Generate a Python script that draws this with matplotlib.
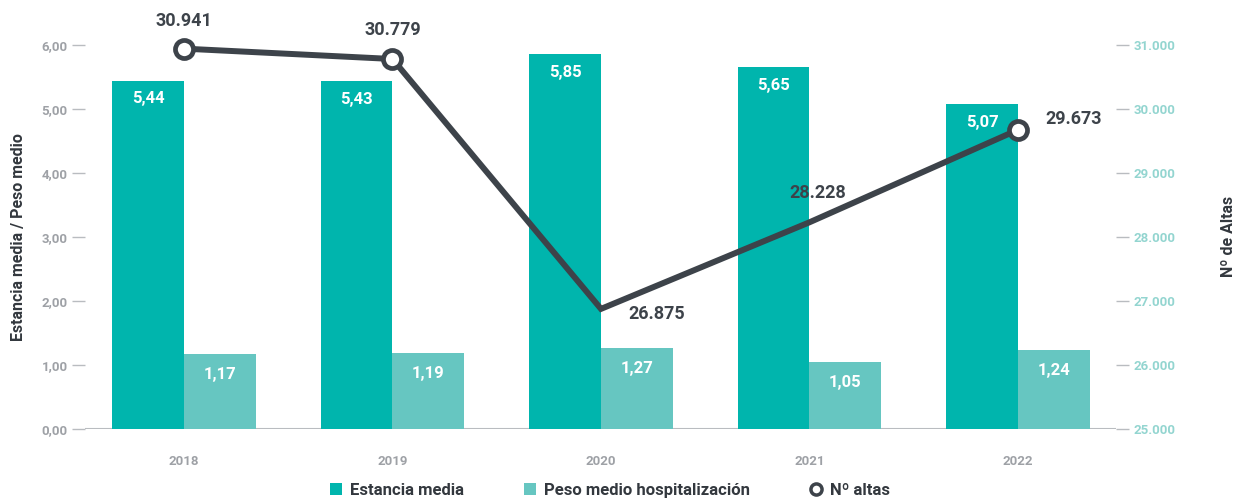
import numpy as np
import matplotlib
matplotlib.use("Agg")
import matplotlib.pyplot as plt
from matplotlib.lines import Line2D
from matplotlib.patches import Patch

plt.rcParams["font.family"] = ["Roboto", "DejaVu Sans"]

years = ["2018", "2019", "2020", "2021", "2022"]
estancia = [5.44, 5.43, 5.85, 5.65, 5.07]
peso = [1.17, 1.19, 1.27, 1.05, 1.24]
altas = [30941, 30779, 26875, 28228, 29673]
altas_labels = ["30.941", "30.779", "26.875", "28.228", "29.673"]
# offsets (points) of the altas labels relative to each point
altas_offsets = [(0, 20), (0, 21), (40, -4), (6, 21), (40, 8)]

C_EST = "#00B5AD"
C_PESO = "#66C6C1"
C_LINE = "#3D434A"
C_TICK = "#9EA1A6"
C_RTICK = "#93D5D0"
C_GRID = "#B9BCC0"
C_TEXT = "#33383E"

fig = plt.figure(figsize=(12.4, 5.04), dpi=100)
ax = fig.add_axes([0.0685, 0.149, 0.8315, 0.762])
ax2 = ax.twinx()

x = np.arange(len(years))
w = 0.345
ax.bar(x - w / 2, estancia, w, color=C_EST, zorder=2)
ax.bar(x + w / 2, peso, w, color=C_PESO, zorder=2)

for xi, v in zip(x, estancia):
    ax.annotate(f"{v:.2f}".replace(".", ","), (xi - w / 2, v), xytext=(0, -13),
                textcoords="offset points", ha="center", va="center",
                color="white", fontsize=12, fontweight="bold", zorder=3)
for xi, v in zip(x, peso):
    ax.annotate(f"{v:.2f}".replace(".", ","), (xi + w / 2, v), xytext=(0, -15),
                textcoords="offset points", ha="center", va="center",
                color="white", fontsize=12, fontweight="bold", zorder=3)

ax2.plot(x, altas, color=C_LINE, lw=4.3, marker="o", markevery=[0, 1, 4],
         markersize=13, markerfacecolor="white", markeredgecolor=C_LINE,
         markeredgewidth=3.4, zorder=4, solid_joinstyle="miter", clip_on=False)
for xi, v, lab, off in zip(x, altas, altas_labels, altas_offsets):
    ax2.annotate(lab, (xi, v), xytext=off, textcoords="offset points",
                 ha="center", va="center", color=C_LINE, fontsize=13,
                 fontweight="bold", annotation_clip=False)

ax.set_xlim(-0.475, 4.47)
ax.set_ylim(0, 6)
ax2.set_ylim(25000, 31000)

yt = np.arange(0, 7)
ax.set_yticks(yt)
ax.set_yticklabels([f"{v:.2f}".replace(".", ",") for v in yt])
yt2 = np.arange(25000, 31001, 1000)
ax2.set_yticks(yt2)
ax2.set_yticklabels([f"{v:,}".replace(",", ".") for v in yt2])

ax.set_xticks(x)
ax.set_xticklabels(years)
ax.tick_params(axis="x", length=0, pad=19, labelsize=9.5, labelcolor=C_TICK)
for t in ax.get_xticklabels():
    t.set_fontweight("bold")
ax.tick_params(axis="y", length=9.5, width=1, color=C_GRID, pad=3,
               labelsize=9.5, labelcolor=C_TICK)
for t in ax.get_yticklabels():
    t.set_fontweight("bold")
ax2.tick_params(axis="y", length=9.5, width=1, color=C_GRID, pad=3,
                labelsize=9.5, labelcolor=C_RTICK)
for t in ax2.get_yticklabels():
    t.set_fontweight("bold")

for a in (ax, ax2):
    for s in ("top", "left", "right", "bottom"):
        a.spines[s].set_visible(False)
ax.axhline(0, color=C_GRID, lw=1.5, zorder=1)

ax.set_ylabel("Estancia media / Peso medio", fontsize=11.5, color=C_TEXT,
              fontweight="semibold", labelpad=11)
ax2.set_ylabel("Nº de Altas", fontsize=11.5, color=C_TEXT,
               fontweight="semibold", labelpad=33)

handles = [
    Patch(facecolor=C_EST, label="Estancia media"),
    Patch(facecolor=C_PESO, label="Peso medio hospitalización"),
    Line2D([], [], color="none", marker="o", markersize=8,
           markerfacecolor="white", markeredgecolor=C_LINE,
           markeredgewidth=2.5, label="Nº altas"),
]
leg = fig.legend(handles=handles, loc="lower center", ncol=3,
                 bbox_to_anchor=(0.492, -0.018), frameon=False,
                 fontsize=12, handlelength=0.7, handleheight=0.7,
                 handletextpad=0.5, columnspacing=3.6)
for t in leg.get_texts():
    t.set_color(C_TEXT)
    t.set_fontweight("semibold")

fig.savefig("out.png", dpi=100)
